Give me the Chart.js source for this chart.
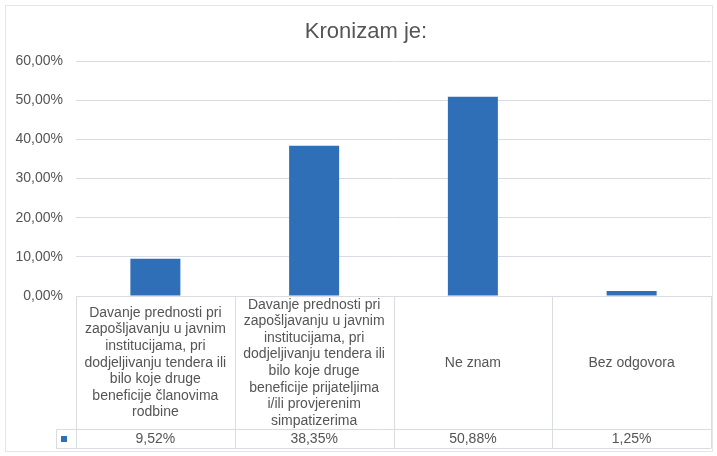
<!DOCTYPE html>
<html>
<head>
<meta charset="utf-8">
<script src="https://cdn.jsdelivr.net/npm/chart.js@4"></script>
<style>
  html, body { margin: 0; padding: 0; background: #fff; }
  #wrap { width: 717px; height: 456px; position: relative; }
</style>
</head>
<body>
<div id="wrap"><canvas id="chart" width="717" height="456"></canvas></div>
<script>
// --- Data ---
const chartTitle = "Kronizam je:";
const categories = [
  ["Davanje prednosti pri", "zapošljavanju u javnim", "institucijama, pri", "dodjeljivanju tendera ili", "bilo koje druge", "beneficije članovima", "rodbine"],
  ["Davanje prednosti pri", "zapošljavanju u javnim", "institucijama, pri", "dodjeljivanju tendera ili", "bilo koje druge", "beneficije prijateljima", "i/ili provjerenim", "simpatizerima"],
  ["Ne znam"],
  ["Bez odgovora"]
];
const values = [9.52, 38.35, 50.88, 1.25];
const yMax  = 60;
const yStep = 10;

const BLUE  = "#2e6fb7";
const GRID  = "#d9dde3";
const TEXT  = "#555555";
const FONT  = "'Liberation Sans', Arial, sans-serif";

const fmt = v => v.toFixed(2).replace(".", ",") + "%";

// --- Frame, title and table under the plot (table drawn from the x scale) ---
const tablePlugin = {
  id: "dataTable",
  beforeDraw(chart) {
    const ctx = chart.ctx;
    ctx.save();
    ctx.strokeStyle = "#e4e6ea";
    ctx.lineWidth = 1;
    ctx.strokeRect(5.5, 5.5, 707, 446);
    // title sits a little right of the canvas centre, as in the source
    ctx.fillStyle = TEXT;
    ctx.font = "22px " + FONT;
    ctx.textAlign = "center";
    ctx.textBaseline = "middle";
    ctx.fillText(chartTitle, 366, 32);
    ctx.restore();
  },
  afterDraw(chart) {
    const ctx  = chart.ctx;
    const area = chart.chartArea;
    const x    = chart.scales.x;
    const n    = categories.length;
    const cw   = (area.right - area.left) / n;
    const headBottom = 429.5;
    const rowBottom  = 448.5;
    const legLeft    = 56.5;

    ctx.save();
    ctx.strokeStyle = GRID;
    ctx.lineWidth = 1;
    ctx.beginPath();
    for (let i = 0; i <= n; i++) {
      const px = Math.round(area.left + i * cw) + 0.5;
      ctx.moveTo(px, area.bottom);
      ctx.lineTo(px, rowBottom);
    }
    ctx.moveTo(legLeft, headBottom);
    ctx.lineTo(area.right, headBottom);
    ctx.moveTo(legLeft, rowBottom);
    ctx.lineTo(area.right, rowBottom);
    ctx.moveTo(legLeft, headBottom);
    ctx.lineTo(legLeft, rowBottom);
    ctx.stroke();

    ctx.fillStyle = TEXT;
    ctx.font = "14px " + FONT;
    ctx.textAlign = "center";
    ctx.textBaseline = "middle";
    const lh = 16.6;
    categories.forEach((lines, i) => {
      const cx = x.getPixelForValue(i);
      const top = area.bottom + (headBottom - area.bottom - lines.length * lh) / 2;
      lines.forEach((t, j) => ctx.fillText(t, cx, top + lh * (j + 0.5)));
      ctx.fillText(fmt(values[i]), cx, (headBottom + rowBottom) / 2 + 0.5);
    });

    // legend key
    ctx.fillStyle = BLUE;
    ctx.fillRect(61, 436, 6, 6);
    ctx.restore();
  }
};

new Chart(document.getElementById("chart"), {
  type: "bar",
  data: {
    labels: categories.map(c => c.join(" ")),
    datasets: [{
      data: values,
      backgroundColor: BLUE,
      categoryPercentage: 1,
      barPercentage: 0.315
    }]
  },
  options: {
    responsive: false,
    animation: false,
    layout: { padding: { left: 5, right: 6, top: 61, bottom: 160 } },
    plugins: {
      legend: { display: false },
      tooltip: { enabled: false },
      title: { display: false }
    },
    scales: {
      x: {
        ticks: { display: false },
        grid: { display: false },
        border: { display: false },
        afterFit: s => { s.height = 0; }
      },
      y: {
        min: 0,
        max: yMax,
        ticks: {
          stepSize: yStep,
          color: TEXT,
          padding: 13,
          font: { family: FONT, size: 14 },
          callback: v => fmt(v)
        },
        grid: { color: GRID, drawTicks: false },
        border: { display: false },
        afterFit: s => { s.width = 71; }
      }
    }
  },
  plugins: [tablePlugin]
});
</script>
</body>
</html>
